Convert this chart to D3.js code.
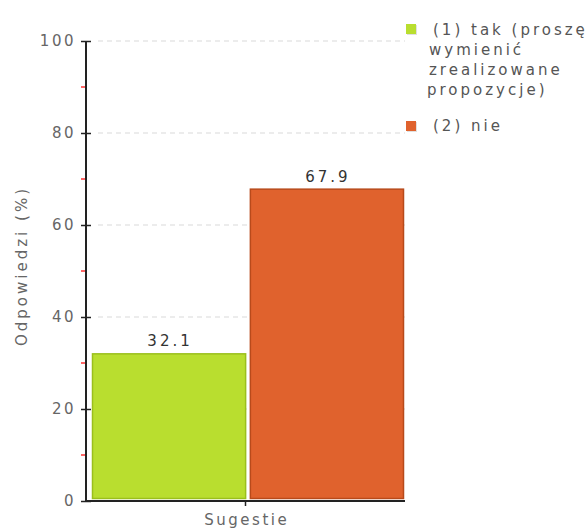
<!DOCTYPE html>
<html><head><meta charset="utf-8">
<script src="https://cdn.jsdelivr.net/npm/d3@7"></script>
<style>body{margin:0;background:#fff}svg{display:block}text{font-family:"DejaVu Sans",Verdana,sans-serif}</style>
</head><body><svg id="c" width="587" height="530"></svg>
<script>
const categories = ["Sugestie"];
const seriesNames = [["(1) tak (proszę", "wymienić", "zrealizowane", "propozycje)"], ["(2) nie"]];
const seriesValues = [32.1, 67.9];
const seriesColors = ["#b9de2f", "#e0622d"];
const strokeColors = ["#9bbf1c", "#b84a1b"];
const yTicks = [0, 20, 40, 60, 80, 100];
const yMinor = [10, 30, 50, 70, 90];

const svg = d3.select("#c");
const x0 = 86, x1 = 405, yTop = 41, yBot = 501;
const y = d3.scaleLinear().domain([0, 100]).range([yBot, yTop]);
const xc = d3.scaleBand().domain(categories).range([x0, x1]).padding(0);
const xs = d3.scaleBand().domain(d3.range(seriesValues.length)).range([xc(categories[0]) + 6, xc(categories[0]) + xc.bandwidth() - 2]).paddingInner(0.03);

// gridlines
svg.append("g").selectAll("line").data(yTicks.filter(d => d > 0)).join("line")
  .attr("x1", x0 + 12).attr("x2", x1).attr("y1", d => y(d)).attr("y2", d => y(d))
  .attr("stroke", "#d9d9d9").attr("stroke-dasharray", "5,4").attr("stroke-width", 1);

// bars
svg.append("g").selectAll("rect").data(seriesValues).join("rect")
  .attr("x", (d, i) => xs(i) + 0.5).attr("width", xs.bandwidth())
  .attr("y", d => y(d) + 0.5).attr("height", d => yBot - 3 - y(d))
  .attr("fill", (d, i) => seriesColors[i]).attr("stroke", (d, i) => strokeColors[i]).attr("stroke-width", 1.5);

// value labels
svg.append("g").selectAll("text").data(seriesValues).join("text")
  .attr("x", (d, i) => xs(i) + xs.bandwidth() / 2 + 1.5).attr("y", d => y(d) - 7)
  .attr("text-anchor", "middle").attr("font-size", 15).attr("letter-spacing", 3).attr("fill", "#333")
  .text(d => d.toFixed(1));

// y axis
const ya = d3.axisLeft(y).tickValues(yTicks).tickSize(5).tickPadding(5);
const gy = svg.append("g").attr("transform", `translate(${x0},0)`).call(ya);
gy.select(".domain").remove();
gy.selectAll(".tick line").attr("x1", -5).attr("x2", 5).attr("stroke", "#222").attr("stroke-width", 1.5);
gy.selectAll(".tick text").attr("font-size", 15).attr("letter-spacing", 2.5).attr("fill", "#666").attr("font-family", "DejaVu Sans, sans-serif");
svg.append("g").selectAll("line").data(yMinor).join("line")
  .attr("x1", x0 - 5).attr("x2", x0).attr("y1", d => y(d)).attr("y2", d => y(d))
  .attr("stroke", "#ff0000").attr("stroke-width", 1.2);
svg.append("line").attr("x1", x0).attr("x2", x0).attr("y1", yTop).attr("y2", yBot).attr("stroke", "#222").attr("stroke-width", 2);

// x axis
svg.append("line").attr("x1", x0).attr("x2", x1).attr("y1", yBot).attr("y2", yBot).attr("stroke", "#222").attr("stroke-width", 2);
const xa = d3.axisBottom(xc).tickSize(5).tickPadding(8);
const gx = svg.append("g").attr("transform", `translate(0,${yBot})`).call(xa);
gx.select(".domain").remove();
gx.selectAll(".tick line").attr("stroke", "#222").attr("stroke-width", 1.5);
gx.selectAll(".tick text").attr("font-size", 15).attr("letter-spacing", 2.5).attr("dx", 1.25).attr("fill", "#666").attr("font-family", "DejaVu Sans, sans-serif");

// y label
svg.append("text").attr("transform", `translate(27,266) rotate(-90)`)
  .attr("text-anchor", "middle").attr("font-size", 15).attr("letter-spacing", 3).attr("fill", "#666").text("Odpowiedzi (%)");

// legend
const leg = svg.append("g");
const legY = [24, 121];
const legBase = [35, 131];
seriesNames.forEach((lines, i) => {
  leg.append("rect").attr("x", 407).attr("y", legY[i] + 1).attr("width", 10).attr("height", 10).attr("fill", "#ccc").attr("opacity", 0.6);
  leg.append("rect").attr("x", 406).attr("y", legY[i]).attr("width", 10).attr("height", 10).attr("fill", seriesColors[i]);
  lines.forEach((t, j) => {
    leg.append("text").attr("x", j === 0 ? 433 : (j === 3 ? 427 : 429)).attr("y", legBase[i] + j * 20)
      .attr("font-size", 15).attr("letter-spacing", 3).attr("fill", "#555").text(t);
  });
});
</script></body></html>
